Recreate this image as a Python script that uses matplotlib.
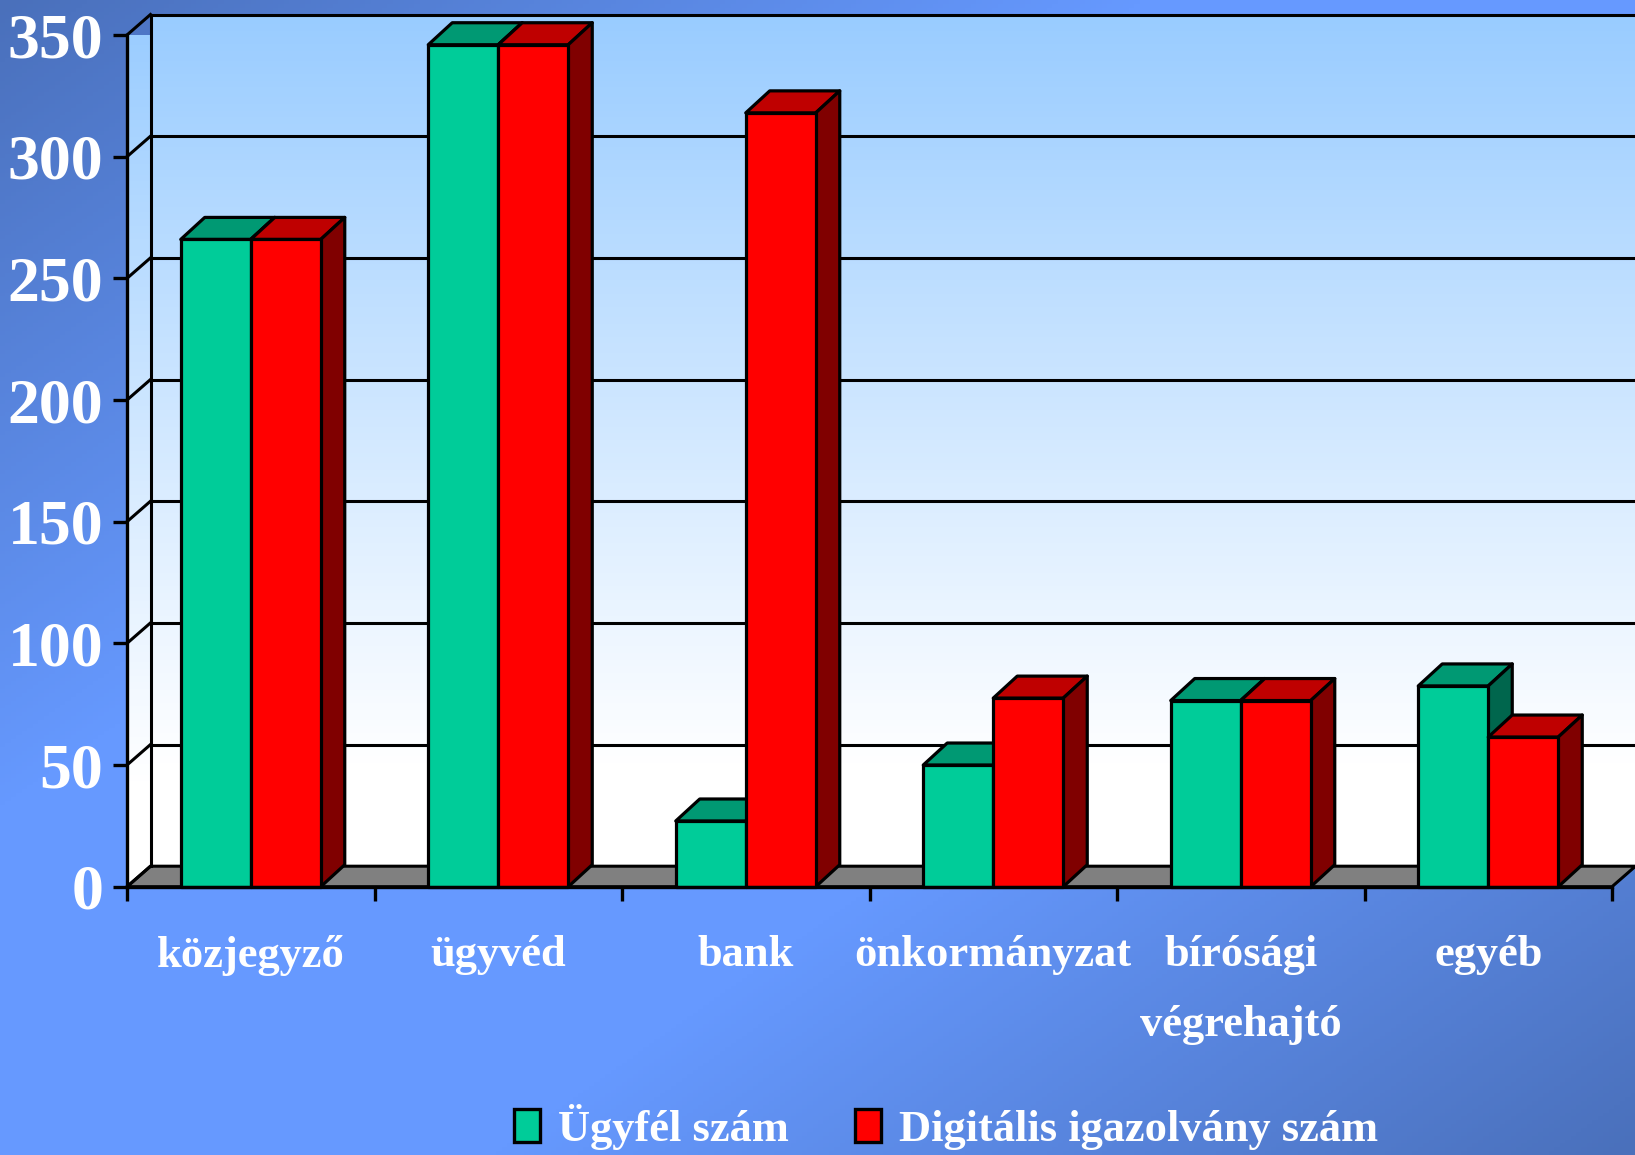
import numpy as np
import matplotlib
matplotlib.use("Agg")
import matplotlib.pyplot as plt
from matplotlib.patches import Polygon, Patch
from matplotlib.colors import LinearSegmentedColormap

plt.rcParams['font.family'] = ['Liberation Serif', 'DejaVu Serif']
plt.rcParams['font.weight'] = 'bold'

categories = ['közjegyző', 'ügyvéd', 'bank', 'önkormányzat', 'bírósági\nvégrehajtó', 'egyéb']
ugyfel = [266, 346, 27, 50, 76.5, 82.5]
digitalis = [266, 346, 318, 77.5, 76.5, 61.5]
yticks = [0, 50, 100, 150, 200, 250, 300, 350]

W, H = 1635, 1155
fig = plt.figure(figsize=(W / 100, H / 100), dpi=100)

# diagonal page background
bg = fig.add_axes([0, 0, 1, 1])
bg.axis('off')
yy, xx = np.mgrid[0:1:300j, 0:1:300j]
t = np.clip((np.abs(xx + yy - 1) - 0.3) / 0.7, 0, 1)
page = LinearSegmentedColormap.from_list('page', ['#6699ff', '#4a70bb'])
bg.imshow(t, cmap=page, vmin=0, vmax=1, extent=[0, 1, 1, 0], aspect='auto')

# front plane of the 3d box is the axes rectangle
left, right, top, bottom = 127, 1612, 35, 886.7
ax = fig.add_axes([left / W, 1 - bottom / H, (right - left) / W, (bottom - top) / H])
ax.patch.set_alpha(0)
ax.set_xlim(0, 6)
ax.set_ylim(0, 350)
xscale = 6 / (right - left)
yscale = 350 / (bottom - top)
dx = 23.5 * xscale
dy = 20.5 * yscale
bar_dx = 24 * xscale
bar_dy = 22 * yscale
barw = 70 * xscale

wall = LinearSegmentedColormap.from_list('wall', [(0, '#99ccff'), (0.88, '#ffffff'), (1, '#ffffff')])
grad = np.linspace(0, 1, 256).reshape(-1, 1)
im = ax.imshow(grad, cmap=wall, extent=[dx, 6 + dx, dy, 350 + dy], aspect='auto', zorder=1, clip_on=False)
im2 = ax.imshow(grad, cmap=wall, extent=[0, dx, 0, 350 + dy], aspect='auto', zorder=1)
side = Polygon([(0, 0), (dx, dy), (dx, 350 + dy), (0, 350)], transform=ax.transData, fc='none', ec='none')
ax.add_patch(side)
im2.set_clip_path(side)
ax.set_xlim(0, 6)
ax.set_ylim(0, 350)

ax.add_patch(Polygon([(0, 0), (dx, dy), (6 + dx, dy), (6, 0)], fc='#808080', ec='black', lw=2.2, zorder=2,
                     clip_on=False, joinstyle='round'))

# grid on back wall and side wall
for v in yticks:
    ax.plot([0, dx], [v, v + dy], color='black', lw=2.2, zorder=3, clip_on=False)
    if v > 0:
        ax.plot([dx, 6 + dx], [v + dy, v + dy], color='black', lw=2.2, zorder=3, clip_on=False)
ax.plot([dx, dx], [dy, 350 + dy], color='black', lw=2.2, zorder=3, clip_on=False)


def bar3d(x0, h, front, topc, sidec, z):
    x1 = x0 + barw
    ax.add_patch(Polygon([(x0, h), (x0 + bar_dx, h + bar_dy), (x1 + bar_dx, h + bar_dy), (x1, h)],
                         fc=topc, ec='black', lw=2.3, zorder=z, clip_on=False, joinstyle='round'))
    ax.add_patch(Polygon([(x1, 0), (x1 + bar_dx, bar_dy), (x1 + bar_dx, h + bar_dy), (x1, h)],
                         fc=sidec, ec='black', lw=2.3, zorder=z, clip_on=False, joinstyle='round'))
    ax.add_patch(Polygon([(x0, 0), (x0, h), (x1, h), (x1, 0)],
                         fc=front, ec='black', lw=2.3, zorder=z, clip_on=False, joinstyle='round'))


for i in range(len(categories)):
    c = i + 0.5
    bar3d(c - barw, ugyfel[i], '#00cc99', '#009973', '#00664d', 4 + i * 0.1)
    bar3d(c, digitalis[i], '#ff0000', '#bf0000', '#800000', 4.05 + i * 0.1)

for s in ['top', 'right']:
    ax.spines[s].set_visible(False)
for s in ['left', 'bottom']:
    ax.spines[s].set_linewidth(2.4)
    ax.spines[s].set_zorder(6)

ax.set_yticks(yticks)
ax.tick_params(axis='y', length=10, width=2.4, pad=7, labelsize=46, labelcolor='white')
ax.set_xticks(range(7))
ax.set_xticklabels([])
ax.tick_params(axis='x', which='major', length=10, width=2.4)
ax.set_xticks(np.arange(len(categories)) + 0.5, minor=True)
ax.set_xticklabels(categories, minor=True, color='white', fontsize=32, linespacing=1.95)
ax.tick_params(axis='x', which='minor', length=0, pad=35)

handles = [Patch(fc='#00cc99', ec='black', lw=2.4, label='Ügyfél szám'),
           Patch(fc='#ff0000', ec='black', lw=2.4, label='Digitális igazolvány szám')]
fig.legend(handles=handles, loc='lower left', bbox_to_anchor=(483 / W, -26 / H), ncol=2, frameon=False,
           fontsize=32, labelcolor='white', handlelength=0.58, handleheight=0.75,
           handletextpad=0.4, columnspacing=1.5, borderpad=0.2)

fig.savefig('out.png', dpi=100)
